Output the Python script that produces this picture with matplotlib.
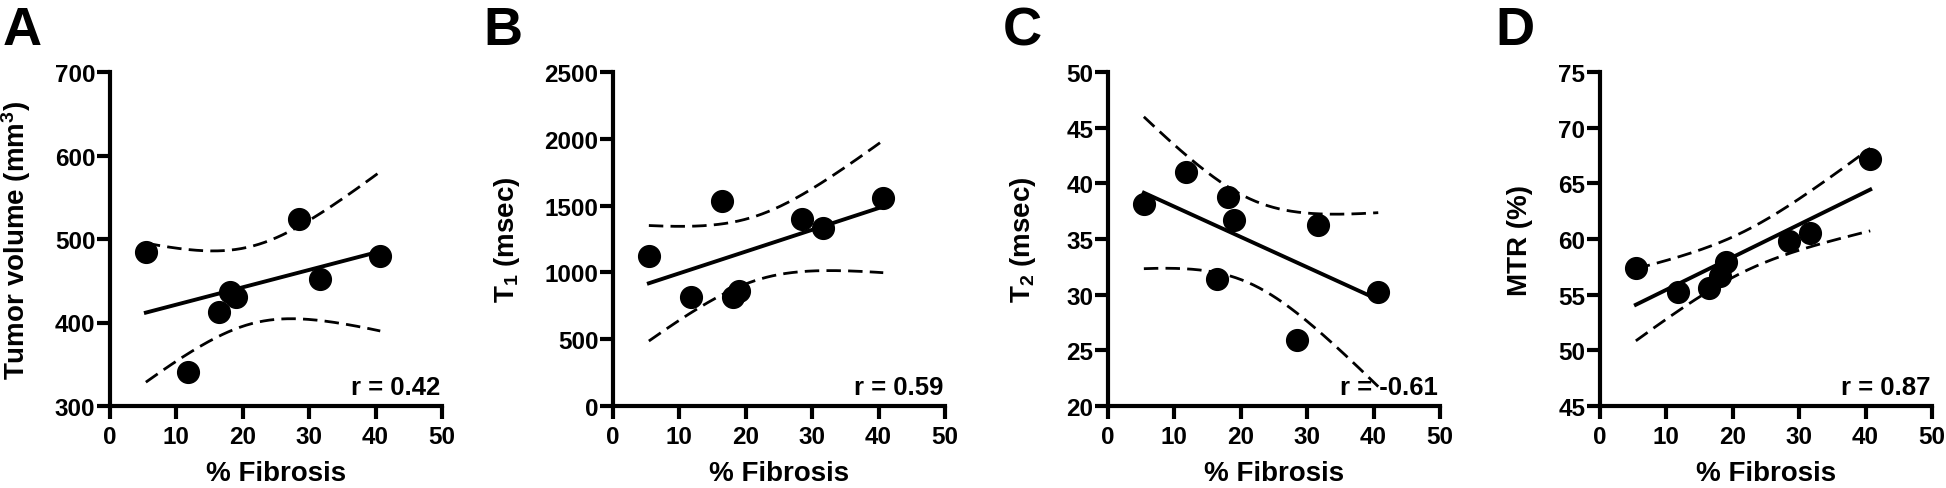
import matplotlib
matplotlib.use('Agg')
import matplotlib.pyplot as plt
import numpy as np

plt.rcParams['font.family'] = ['Liberation Sans', 'DejaVu Sans']
plt.rcParams['font.weight'] = 'bold'
plt.rcParams['mathtext.default'] = 'regular'

# ==========================================
# Data
# ==========================================
fibrosis = np.array([5.4, 11.7, 16.4, 18.1, 19.0, 28.4, 31.6, 40.7])

tumor_volume = np.array([484, 341, 413, 436, 431, 524, 452, 480])
t1_msec = np.array([1124, 816, 1534, 816, 861, 1396, 1330, 1556])
t2_msec = np.array([38.1, 41.0, 31.4, 38.8, 36.7, 25.9, 36.3, 30.2])
mtr_pct = np.array([57.4, 55.2, 55.6, 56.7, 57.9, 59.8, 60.5, 67.2])

panel_letters = ['A', 'B', 'C', 'D']
y_labels = ['Tumor volume (mm$^3$)', 'T$_1$ (msec)', 'T$_2$ (msec)', 'MTR (%)']
r_values = ['r = 0.42', 'r = 0.59', 'r = -0.61', 'r = 0.87']
y_limits = [(300, 700), (0, 2500), (20, 50), (45, 75)]
y_steps = [100, 500, 5, 5]
x_ticks = [0, 10, 20, 30, 40, 50]

# t critical value, 95%, df = n - 2 = 6
T_CRIT = 2.447

# ==========================================
# Layout (pixel positions in the 1946x489 figure)
# ==========================================
W, H = 1946, 489
axes_left_px = [110, 613, 1108, 1600]
axes_w_px = 332
axes_top_px, axes_bot_px = 73, 407
letter_x_px = [3, 483, 1003, 1495]
# right edge of the rotated y label, in axes fraction
ylabel_pos = [-0.232, -0.274, -0.211, -0.202]

fig = plt.figure(figsize=(W / 100, H / 100), dpi=100)

for i, y in enumerate([tumor_volume, t1_msec, t2_msec, mtr_pct]):
    ax = fig.add_axes([axes_left_px[i] / W, 1 - axes_bot_px / H,
                       axes_w_px / W, (axes_bot_px - axes_top_px) / H])

    # linear fit with 95% confidence band
    slope, intercept = np.polyfit(fibrosis, y, 1)
    xx = np.linspace(fibrosis.min(), fibrosis.max(), 200)
    yy = slope * xx + intercept
    n = len(fibrosis)
    resid = y - (slope * fibrosis + intercept)
    s = np.sqrt(np.sum(resid ** 2) / (n - 2))
    sxx = np.sum((fibrosis - fibrosis.mean()) ** 2)
    half = T_CRIT * s * np.sqrt(1 / n + (xx - fibrosis.mean()) ** 2 / sxx)

    ax.plot(xx, yy, color='black', lw=2.8, zorder=2)
    ax.plot(xx, yy + half, color='black', lw=2.0, ls=(0, (5.2, 2.6)), zorder=2)
    ax.plot(xx, yy - half, color='black', lw=2.0, ls=(0, (5.2, 2.6)), zorder=2)
    ax.scatter(fibrosis, y, s=245, color='black', zorder=3, clip_on=False)

    lo, hi = y_limits[i]
    ax.set_xlim(0, 50)
    ax.set_ylim(lo, hi)
    ax.set_xticks(x_ticks)
    ax.set_yticks(np.arange(lo, hi + y_steps[i] / 2, y_steps[i]))

    for side in ['top', 'right']:
        ax.spines[side].set_visible(False)
    for side in ['left', 'bottom']:
        ax.spines[side].set_linewidth(3)
    ax.tick_params(axis='both', length=9.5, width=3, labelsize=17.5)
    ax.tick_params(axis='x', pad=4)
    ax.tick_params(axis='y', pad=1)
    for lab in ax.get_xticklabels() + ax.get_yticklabels():
        lab.set_fontweight('bold')

    ax.set_xlabel('% Fibrosis', fontsize=20, fontweight='bold')
    ax.xaxis.set_label_coords(0.5, -0.162)
    ax.set_ylabel(y_labels[i], fontsize=20, fontweight='bold')
    ax.yaxis.set_label_coords(ylabel_pos[i], 0.5)

    ax.text(0.995, 0.02, r_values[i], transform=ax.transAxes, ha='right',
            va='bottom', fontsize=18.5, fontweight='bold')

    fig.text(letter_x_px[i] / W, 1 - 45 / H, panel_letters[i], fontsize=39,
             fontweight='bold', ha='left', va='baseline')

fig.savefig('out.png', dpi=100)
